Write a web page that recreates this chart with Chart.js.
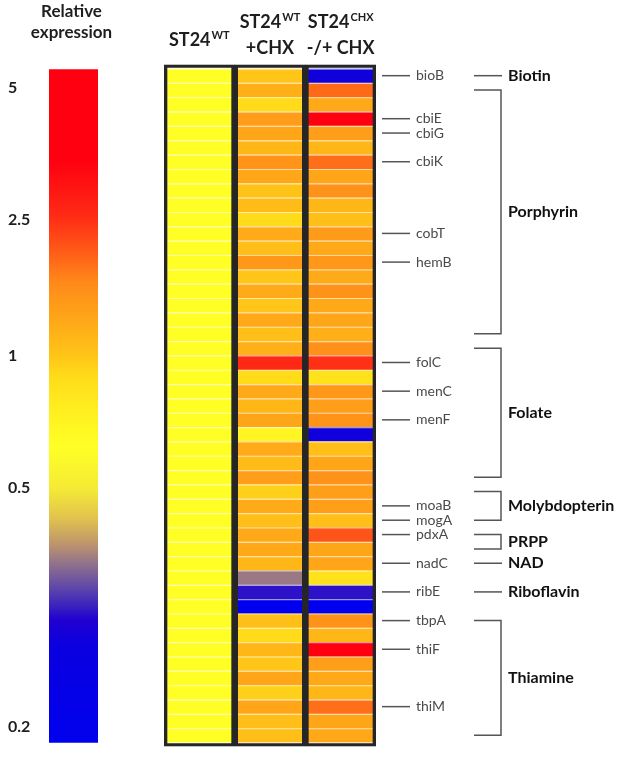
<!DOCTYPE html>
<html><head><meta charset="utf-8">
<script src="https://cdn.jsdelivr.net/npm/chart.js@4.4.1/dist/chart.umd.min.js"></script>
<style>
html,body{margin:0;padding:0;background:#fff;}
#wrap{position:relative;width:627px;height:764px;overflow:hidden;background:#fff;}
canvas{position:absolute;top:0;left:0;}
</style></head><body>
<div id="wrap">
<canvas id="cb" width="144" height="764"></canvas>
<canvas id="hm" width="627" height="764"></canvas>
</div>
<script>
// ---------------- DATA ----------------
const columnKeys = ['ST24WT', 'ST24WT +CHX', 'ST24CHX -/+ CHX'];
const headerBase = ['ST24', 'ST24', 'ST24'];
const headerSup = ['WT', 'WT', 'CHX'];
const headerLine2 = ['', '+CHX', '-/+ CHX'];

const geneRows = ['bioB','','','cbiE','cbiG','','cbiK','','','','','cobT','','hemB','','','','','','',
  'folC','','menC','','menF','','','','','','moaB','mogA','pdxA','','nadC','','ribE','','tbpA','',
  'thiF','','','','thiM','',''];

const wt = [0.63,0.63,0.63,0.63,0.63,0.63,0.63,0.63,0.63,0.63,
  0.63,0.63,0.63,0.63,0.63,0.63,0.63,0.63,0.63,0.63,
  0.63,0.63,0.63,0.63,0.63,0.63,0.63,0.63,0.63,0.63,
  0.63,0.63,0.63,0.63,0.63,0.63,0.63,0.63,0.63,0.63,
  0.63,0.63,0.63,0.63,0.63,0.63,0.63];
const wtChx = [1.0,1.2,0.9,1.4,1.3,1.12,1.5,1.28,1.02,1.08,
  0.9,1.25,1.06,1.45,1.0,1.25,1.0,1.26,1.06,1.2,
  2.6,0.9,1.26,1.12,1.3,0.7,1.25,1.08,1.38,0.95,
  1.25,1.06,1.26,1.26,1.12,0.38,0.31,0.2,1.06,0.9,
  1.12,1.0,1.3,0.95,1.3,1.06,1.06];
const chxChx = [0.28,1.9,1.26,4.0,1.38,1.12,1.85,1.3,1.52,1.12,
  1.06,1.42,1.26,1.45,1.25,1.52,1.26,1.3,1.2,1.55,
  2.5,0.85,1.45,1.38,1.5,0.28,1.06,1.3,1.52,1.38,
  1.38,1.06,2.1,1.3,1.3,0.85,0.31,0.2,1.52,1.12,
  4.0,1.38,1.26,1.12,1.85,1.3,1.26];

const pathwayNames = ['Biotin','Porphyrin','Folate','Molybdopterin','PRPP','NAD','Riboflavin','Thiamine'];
const pathwayFirst = [0, 1, 19, 29, 32, 34, 36, 38];
const pathwayLast  = [0, 18, 28, 31, 33, 34, 36, 46];

const cbTickValues = [5, 2.5, 1, 0.5, 0.2];
const cbTickLabels = ['5', '2.5', '1', '0.5', '0.2'];

// ---------------- LAYOUT / STYLE ----------------
const cbTickPos = [0.972, 0.776, 0.574, 0.378, 0.023]; // position of each legend tick along the bar (0 bottom, 1 top)
const gradStops = [
  [0.000, [0,0,238]], [0.142, [10,0,224]], [0.182, [32,0,208]], [0.2015, [56,32,192]],
  [0.231, [96,72,168]], [0.261, [138,108,144]], [0.291, [184,144,112]], [0.331, [224,192,80]],
  [0.378, [245,235,53]], [0.439, [255,255,37]], [0.490, [255,240,32]], [0.543, [255,220,26]],
  [0.574, [255,197,24]], [0.632, [255,165,24]], [0.683, [255,138,26]], [0.731, [255,90,24]],
  [0.783, [255,42,21]], [0.865, [255,0,16]], [1.000, [255,0,16]]
];
const FONT = 'Lato, "Open Sans", sans-serif';
const pad = 0.28;
const rowCount = geneRows.length;
const columnValues = [wt, wtChx, chxChx];

function valueToT(v) {
  const vs = cbTickValues, ps = cbTickPos;
  if (v >= vs[0]) return ps[0];
  if (v <= vs[vs.length-1]) return Math.max(0, ps[ps.length-1] - 0.1);
  for (let i = 0; i < vs.length - 1; i++) {
    if (v <= vs[i] && v >= vs[i+1]) {
      const f = Math.log(v / vs[i+1]) / Math.log(vs[i] / vs[i+1]);
      return ps[i+1] + f * (ps[i] - ps[i+1]);
    }
  }
  return 0.5;
}
function rgbAt(t) {
  for (let i = 0; i < gradStops.length - 1; i++) {
    const [t0, c0] = gradStops[i], [t1, c1] = gradStops[i+1];
    if (t >= t0 && t <= t1) {
      const f = (t - t0) / (t1 - t0 || 1);
      return c0.map((c, j) => Math.round(c + f * (c1[j] - c)));
    }
  }
  return gradStops[gradStops.length-1][1];
}
const cssRgb = c => `rgb(${c[0]},${c[1]},${c[2]})`;
const cellColor = v => cssRgb(rgbAt(valueToT(v)));
const sepColor = v => cssRgb(rgbAt(valueToT(v)).map(c => Math.round(c + (255 - c) * 0.6)));

// ---------------- COLOUR BAR CHART ----------------
const cbTitle = {
  id: 'cbTitle',
  afterDraw(chart) {
    const ctx = chart.ctx, ca = chart.chartArea;
    const cx = (ca.left + ca.right) / 2 - 2;
    ctx.save();
    ctx.font = `bold 17px ${FONT}`;
    ctx.fillStyle = '#1e1e1e';
    ctx.textAlign = 'center';
    ctx.textBaseline = 'middle';
    ctx.fillText('Relative', cx, 12);
    ctx.fillText('expression', cx, 33);
    ctx.restore();
  }
};

function build() {
  new Chart(document.getElementById('cb'), {
    type: 'bar',
    data: {
      labels: [''],
      datasets: [{
        data: [[0, 1]],
        backgroundColor: (c) => {
          const ca = c.chart.chartArea;
          if (!ca) return 'rgba(0,0,0,0)';
          const g = c.chart.ctx.createLinearGradient(0, ca.bottom, 0, ca.top);
          gradStops.forEach(([t, col]) => g.addColorStop(t, cssRgb(col)));
          return g;
        },
        borderWidth: 0,
        barPercentage: 1,
        categoryPercentage: 1
      }]
    },
    options: {
      responsive: false, animation: false, events: [],
      layout: { padding: { left: 8, right: 46, top: 69.3, bottom: 21.3 } },
      plugins: { legend: { display: false }, tooltip: { enabled: false } },
      scales: {
        x: { display: false },
        y: {
          min: 0, max: 1, position: 'left',
          afterBuildTicks: s => { s.ticks = cbTickPos.map(p => ({ value: p })); },
          afterFit: s => { s.width = 41; },
          grid: { display: false }, border: { display: false },
          ticks: {
            autoSkip: false, crossAlign: 'far', padding: 0, color: '#1e1e1e',
            font: { family: FONT, weight: 'bold', size: 16 },
            callback: (v, i) => cbTickLabels[i]
          }
        }
      }
    },
    plugins: [cbTitle]
  });

  // ---------------- HEATMAP CHART ----------------
  const cellDatasets = geneRows.map((g, k) => ({
    label: g || ('row' + k),
    data: columnValues.map(() => [k, k + 1]),
    backgroundColor: columnValues.map(vals => cellColor(vals[k])),
    borderColor: columnValues.map(vals => sepColor(vals[k])),
    borderWidth: { top: 1.5, bottom: 0, left: 0, right: 0 },
    borderSkipped: false,
    barPercentage: 1, categoryPercentage: 1,
    grouped: false,
    order: 2
  }));
  const boxDataset = {
    label: 'box',
    data: columnValues.map(() => [-pad, rowCount + pad]),
    backgroundColor: 'rgba(0,0,0,0)',
    borderColor: '#262626',
    borderWidth: 3,
    borderSkipped: false,
    barPercentage: 1, categoryPercentage: 1,
    grouped: false,
    order: 0
  };

  const annot = {
    id: 'annot',
    afterDraw(chart) {
      const ctx = chart.ctx, ca = chart.chartArea;
      const xs = chart.scales.x, ys = chart.scales.y;
      const rowY = k => ys.getPixelForValue(k + 0.5);
      ctx.save();
      // column headers
      ctx.fillStyle = '#1e1e1e';
      ctx.textBaseline = 'middle';
      columnKeys.forEach((key, i) => {
        const cx = xs.getPixelForValue(i);
        ctx.font = `bold 18px ${FONT}`;
        const wb = ctx.measureText(headerBase[i]).width;
        ctx.font = `bold 11px ${FONT}`;
        const ws = ctx.measureText(headerSup[i]).width;
        const y1 = headerLine2[i] ? ca.top - 42 : ca.top - 24.5;
        const x0 = cx - (wb + ws + 1) / 2;
        ctx.textAlign = 'left';
        ctx.font = `bold 18px ${FONT}`;
        ctx.fillText(headerBase[i], x0, y1);
        ctx.font = `bold 11px ${FONT}`;
        ctx.fillText(headerSup[i], x0 + wb + 1, y1 - 5);
        if (headerLine2[i]) {
          ctx.font = `bold 18px ${FONT}`;
          ctx.textAlign = 'center';
          ctx.fillText(headerLine2[i], cx, ca.top - 16);
        }
      });
      // gene labels with tick lines
      ctx.strokeStyle = '#555';
      ctx.lineWidth = 1.5;
      ctx.font = `14px ${FONT}`;
      ctx.fillStyle = '#4a4a4a';
      ctx.textAlign = 'left';
      geneRows.forEach((g, k) => {
        if (!g) return;
        const y = rowY(k);
        ctx.beginPath();
        ctx.moveTo(ca.right + 6, y);
        ctx.lineTo(ca.right + 34, y);
        ctx.stroke();
        ctx.fillText(g, ca.right + 40, y);
      });
      // pathway brackets
      const xa = ca.right + 98, xb = ca.right + 125;
      ctx.font = `bold 16px ${FONT}`;
      ctx.fillStyle = '#111';
      pathwayNames.forEach((name, i) => {
        const y1 = rowY(pathwayFirst[i]), y2 = rowY(pathwayLast[i]);
        ctx.beginPath();
        if (pathwayFirst[i] === pathwayLast[i]) {
          ctx.moveTo(xa, y1); ctx.lineTo(xb + 1, y1);
        } else {
          ctx.moveTo(xa, y1); ctx.lineTo(xb, y1); ctx.lineTo(xb, y2); ctx.lineTo(xa, y2);
        }
        ctx.stroke();
        ctx.fillText(name, ca.right + 132, (y1 + y2) / 2);
      });
      ctx.restore();
    }
  };

  new Chart(document.getElementById('hm'), {
    type: 'bar',
    data: { labels: columnKeys, datasets: [...cellDatasets, boxDataset] },
    options: {
      responsive: false, animation: false, events: [],
      layout: { padding: { left: 164, right: 251, top: 64.5, bottom: 17.5 } },
      plugins: { legend: { display: false }, tooltip: { enabled: false } },
      scales: {
        x: { display: false, offset: true },
        y: { display: false, min: -pad, max: rowCount + pad, reverse: true }
      }
    },
    plugins: [annot]
  });
}

if (document.fonts && document.fonts.load) {
  Promise.all([
    document.fonts.load(`16px Lato`),
    document.fonts.load(`bold 16px Lato`)
  ]).then(build, build);
} else {
  build();
}
</script>
</body></html>
